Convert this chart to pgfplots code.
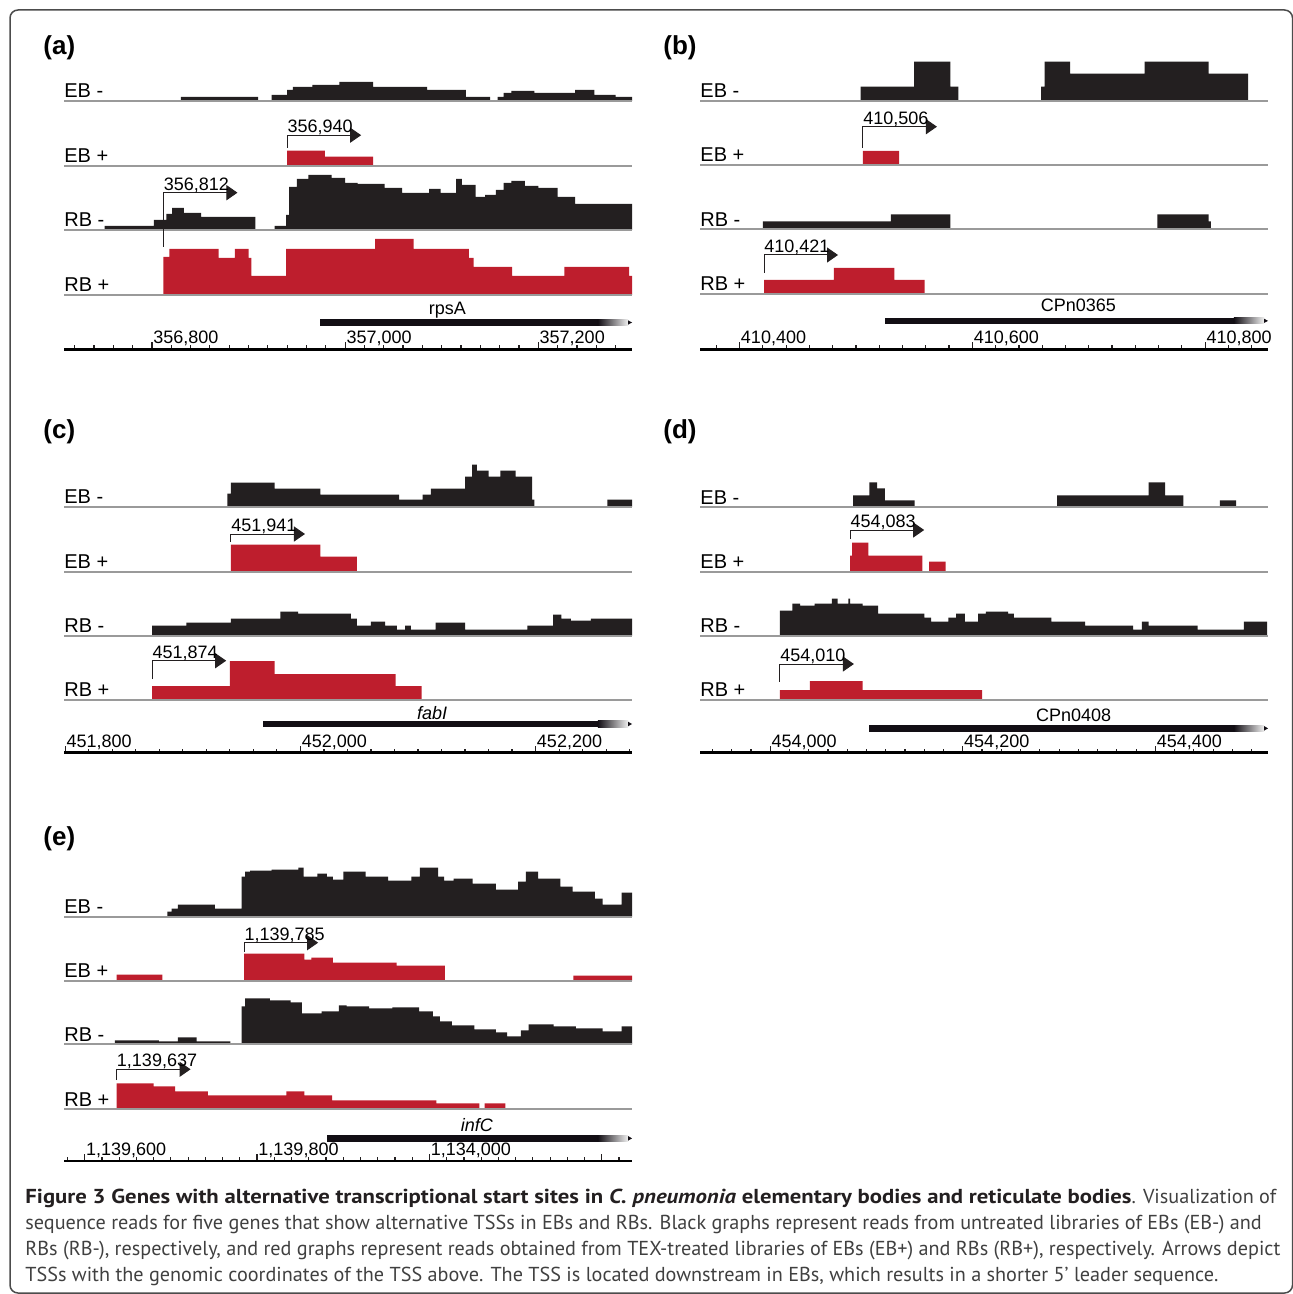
\documentclass[border=0pt]{standalone}
\usepackage{fontspec}
\setmainfont{Liberation Sans}
\newfontfamily\capfont{PT Sans}[BoldFeatures={FakeStretch=1.125}, BoldItalicFeatures={FakeStretch=1.125}]
\usepackage{pgfplots}
\pgfplotsset{compat=1.18}
\usetikzlibrary{arrows.meta}
\definecolor{tblack}{HTML}{231F20}
\definecolor{tred}{HTML}{BE1E2D}
\definecolor{bgray}{HTML}{9A9A9A}
\definecolor{genec}{HTML}{120E14}
\pgfplotsset{
  track/.style={scale only axis, width=284pt, height=30pt, ymin=0, ymax=60, hide axis, clip=false, anchor=south west},
  blk/.style={const plot, fill=tblack, draw=none},
  rd/.style={const plot, fill=tred, draw=none},
  ruler/.style={scale only axis, width=284pt, height=30pt, ymin=0, ymax=60,
    axis x line=bottom, axis y line=none, x axis line style={line width=1.3pt, -},
    tick align=inside, major tick length=3.5pt, minor tick length=2pt,
    every tick/.style={tblack, line width=0.6pt},
    xticklabel style={anchor=south west, inner sep=0.5pt, yshift=1pt, font=\fontsize{9}{10}\selectfont},
    clip=false, anchor=south west, scaled x ticks=false},
  pa/.style={xmin=356709, xmax=357297},
  pb/.style={xmin=410366, xmax=410854},
  pc/.style={xmin=451799, xmax=452282},
  pd/.style={xmin=453927, xmax=454517},
  pe/.style={xmin=1139576, xmax=1140235},
}
\tikzset{
  bline/.style={bgray, line width=0.9pt},
  lab/.style={anchor=base west, inner sep=0, yshift=1.6pt, font=\fontsize{10}{12}\selectfont},
  tssline/.style={tblack, line width=0.5pt, -{Triangle[length=5.5pt, width=7.5pt]}},
  tsslab/.style={anchor=base west, inner sep=0, yshift=1.3pt, font=\fontsize{9}{10}\selectfont},
  genelab/.style={anchor=base, inner sep=0, font=\fontsize{9}{10}\selectfont},
  ptitle/.style={anchor=base west, inner sep=0, font=\fontsize{13}{15}\selectfont\bfseries},
}
\newcommand\trk[1]{\draw[bline] (rel axis cs:0,0) -- (rel axis cs:1,0); \node[lab] at (rel axis cs:0,0) {#1};}
\newcommand\tss[4]{\draw[tssline] (axis cs:#1,#2) -- (axis cs:#1,#3) -- ([xshift=37pt]axis cs:#1,#3); \node[tsslab] at (axis cs:#1,#3) {#4};}
% start, end, ylo, yhi, ymid
\newcommand\genebar[5]{%
  \fill[genec] (axis cs:#1,#3) rectangle ([xshift=-17pt]axis cs:#2,#4);
  \shade[left color=genec, right color=black!6] ([xshift=-17.1pt]axis cs:#2,#3) rectangle ([xshift=-2pt]axis cs:#2,#4);
  \fill[genec] ([xshift=-2pt,yshift=0.5pt]axis cs:#2,#3) -- (axis cs:#2,#5) -- ([xshift=-2pt,yshift=-0.5pt]axis cs:#2,#4) -- cycle;}
\begin{document}
\begin{tikzpicture}
\begin{scope}[x=0.5pt,y=-0.5pt]
\useasboundingbox (0,0) rectangle (1293,1294);
\draw[black!70, line width=0.75pt, rounded corners=4pt] (10,1293) rectangle (1292.5,10);
\node[ptitle] at (43,55) {(a)};
\node[ptitle] at (663,55) {(b)};
\node[ptitle] at (43,438) {(c)};
\node[ptitle] at (663,438) {(d)};
\node[ptitle] at (43,845) {(e)};
\node[anchor=base west, inner sep=0] at (25,1203) {\parbox[t]{632pt}{\leavevmode\capfont\fontsize{10.1}{13.15}\selectfont
\hyphenpenalty=10000 \exhyphenpenalty=10000 \raggedright \parindent=0pt \color{black!75}%
{\bfseries\color{tblack}Figure 3 Genes with alternative transcriptional start sites in \textit{C. pneumonia} elementary bodies and reticulate bodies}. Visualization of\\
sequence reads for five genes that show alternative TSSs in EBs and RBs. Black graphs represent reads from untreated libraries of EBs (EB-) and\\
RBs (RB-), respectively, and red graphs represent reads obtained from TEX-treated libraries of EBs (EB+) and RBs (RB+), respectively. Arrows depict\\
TSSs with the genomic coordinates of the TSS above. The TSS is located downstream in EBs, which results in a shorter 5’ leader sequence.}};
\end{scope}

% ================= panel (a)
\begin{axis}[track, pa, at={(32pt,-50.5pt)}]
\addplot[blk] coordinates {(356830,4) (356910,0) (356924,6) (356940,11) (356946,14) (356966,16) (356994,19) (357029,14) (357085,11) (357125,4) (357150,0) (357158,4) (357164,8) (357172,10) (357196,8) (357238,11) (357258,6) (357280,4) (357297,4)} \closedcycle;
\trk{EB -}
\end{axis}
\begin{axis}[track, pa, at={(32pt,-82.85pt)}]
\addplot[rd] coordinates {(356940,15) (356979,9) (357029,9)} \closedcycle;
\trk{EB +}
\tss{356940}{18}{30.5}{356,940}
\end{axis}
\begin{axis}[track, pa, at={(32pt,-115pt)}]
\addplot[blk] coordinates {(356751,4) (356802,10) (356815,16) (356821,22) (356833,17) (356851,13) (356907,0) (356927,4) (356939,15) (356942,43) (356950,51) (356962,55) (356986,52) (357000,47) (357013,46) (357041,42) (357059,37) (357087,41) (357099,37) (357115,51) (357121,45) (357135,33) (357145,35) (357156,40) (357164,47) (357172,49) (357186,44) (357200,42) (357220,33) (357238,26) (357297,26)} \closedcycle;
\trk{RB -}
\end{axis}
\begin{axis}[track, pa, at={(32pt,-147.5pt)}]
\addplot[rd] coordinates {(356812,38) (356818,46) (356869,37) (356886,46) (356900,37) (356903,19) (356939,46) (357031,56) (357071,46) (357128,37) (357133,28) (357173,19) (357227,28) (357294,19) (357297,19)} \closedcycle;
\trk{RB +}
\tss{356812}{48}{102.3}{356,812}
\end{axis}
\begin{axis}[ruler, pa, at={(32pt,-174.65pt)},
  xtick={356800,357000,357200}, xticklabels={{356,800},{357,000},{357,200}},
  minor xtick={356720,356740,356760,356780,356820,356840,356860,356880,356900,356920,356940,356960,356980,357020,357040,357060,357080,357100,357120,357140,357160,357180,357220,357240,357260,357280}]
\genebar{356974}{357297}{23.6}{30}{26.8}
\node[genelab] at (axis cs:357106,34.3) {rpsA};
\end{axis}

% ================= panel (b)
\begin{axis}[track, pb, at={(350pt,-50.35pt)}]
\addplot[blk] coordinates {(410504,14) (410550,39) (410581,14) (410588,0) (410659,14) (410662,39) (410684,27) (410748,39) (410803,27) (410837,27)} \closedcycle;
\trk{EB -}
\end{axis}
\begin{axis}[track, pb, at={(350pt,-82.5pt)}]
\addplot[rd] coordinates {(410506,14) (410537,14)} \closedcycle;
\trk{EB +}
\tss{410506}{17}{38.3}{410,506}
\end{axis}
\begin{axis}[track, pb, at={(350pt,-114.65pt)}]
\addplot[blk] coordinates {(410420,8) (410530,15) (410581,0) (410759,15) (410803,8) (410805,8)} \closedcycle;
\trk{RB -}
\end{axis}
\begin{axis}[track, pb, at={(350pt,-147pt)}]
\addplot[rd] coordinates {(410421,14) (410481,26) (410533,14) (410559,14)} \closedcycle;
\trk{RB +}
\tss{410421}{21}{39}{410,421}
\end{axis}
\begin{axis}[ruler, pb, at={(350pt,-174.65pt)},
  xtick={410400,410600,410800}, xticklabels={{410,400},{410,600},{410,800}},
  minor xtick={410380,410420,410440,410460,410480,410500,410520,410540,410560,410580,410620,410640,410660,410680,410700,410720,410740,410760,410780,410820,410840}]
\genebar{410525}{410854}{25.3}{31.6}{28.45}
\node[genelab] at (axis cs:410691,37.6) {CPn0365};
\end{axis}

% ================= panel (c)
\begin{axis}[track, pc, at={(32pt,-253.35pt)}]
\addplot[blk] coordinates {(451938,13) (451941,24) (451978,18) (452017,12) (452084,7) (452104,12) (452111,18) (452140,30) (452146,42) (452150,36) (452160,30) (452170,36) (452183,30) (452197,7) (452199,0) (452261,7) (452282,7)} \closedcycle;
\trk{EB -}
\end{axis}
\begin{axis}[track, pc, at={(32pt,-285.85pt)}]
\addplot[rd] coordinates {(451941,27) (452017,15) (452048,15)} \closedcycle;
\trk{EB +}
\tss{451941}{29.7}{37.7}{451,941}
\end{axis}
\begin{axis}[track, pc, at={(32pt,-317.85pt)}]
\addplot[blk] coordinates {(451874,10) (451903,13) (451941,17) (451983,24) (451998,22) (452043,17) (452048,10) (452060,14) (452072,10) (452082,6) (452089,10) (452094,6) (452115,13) (452140,6) (452193,10) (452215,21) (452222,17) (452230,15) (452247,17) (452282,17)} \closedcycle;
\trk{RB -}
\end{axis}
\begin{axis}[track, pc, at={(32pt,-350pt)}]
\addplot[rd] coordinates {(451874,14) (451940,39) (451978,26) (452081,14) (452103,14)} \closedcycle;
\trk{RB +}
\tss{451874}{21}{39.3}{451,874}
\end{axis}
\begin{axis}[ruler, pc, at={(32pt,-376.35pt)},
  xtick={451800,452000,452200}, xticklabels={{451,800},{452,000},{452,200}},
  minor xtick={451820,451840,451860,451880,451900,451920,451940,451960,451980,452020,452040,452060,452080,452100,452120,452140,452160,452180,452220,452240,452260,452280}]
\genebar{451968}{452282}{25.4}{32}{28.7}
\node[genelab] at (axis cs:452112,33.4) {\itshape fabI};
\end{axis}

% ================= panel (d)
\begin{axis}[track, pd, at={(350pt,-253.65pt)}]
\addplot[blk] coordinates {(454086,12) (454103,25) (454111,19) (454119,7) (454150,0) (454298,12) (454393,25) (454410,12) (454429,0) (454467,7) (454484,7)} \closedcycle;
\trk{EB -}
\end{axis}
\begin{axis}[track, pd, at={(350pt,-285.85pt)}]
\addplot[rd] coordinates {(454083,16) (454085,29) (454102,16) (454158,0) (454165,10) (454182,10)} \closedcycle;
\trk{EB +}
\tss{454083}{32.7}{41.7}{454,083}
\end{axis}
\begin{axis}[track, pd, at={(350pt,-317.85pt)}]
\addplot[blk] coordinates {(454010,25) (454023,32) (454031,30) (454046,32) (454064,37) (454070,32) (454081,37) (454083,32) (454096,30) (454112,22) (454160,18) (454167,14) (454185,18) (454193,22) (454202,14) (454216,22) (454224,24) (454247,22) (454253,18) (454292,14) (454327,10) (454377,6) (454386,14) (454393,10) (454444,6) (454492,14) (454516,14)} \closedcycle;
\trk{RB -}
\end{axis}
\begin{axis}[track, pd, at={(350pt,-350pt)}]
\addplot[rd] coordinates {(454010,10) (454041,19) (454096,10) (454220,10)} \closedcycle;
\trk{RB +}
\tss{454010}{18.3}{36}{454,010}
\end{axis}
\begin{axis}[ruler, pd, at={(350pt,-376.35pt)},
  xtick={454000,454200,454400}, xticklabels={{454,000},{454,200},{454,400}},
  minor xtick={453940,453960,453980,454020,454040,454060,454080,454100,454120,454140,454160,454180,454220,454240,454260,454280,454300,454320,454340,454360,454380,454420,454440,454460,454480,454500}]
\genebar{454103}{454517}{21}{27.7}{24.35}
\node[genelab] at (axis cs:454315,31) {CPn0408};
\end{axis}

% ================= panel (e)
\begin{axis}[track, pe, at={(32pt,-458.35pt)}]
\addplot[blk] coordinates {(1139696,5) (1139701,8) (1139708,12) (1139751,8) (1139782,40) (1139786,45) (1139792,46) (1139817,47) (1139848,49) (1139854,40) (1139870,43) (1139881,40) (1139888,37) (1139900,45) (1139926,40) (1139952,36) (1139979,40) (1139989,49) (1140010,40) (1140017,36) (1140028,38) (1140050,33) (1140077,27) (1140103,35) (1140112,45) (1140126,38) (1140152,30) (1140166,25) (1140192,18) (1140201,12) (1140223,24) (1140235,24)} \closedcycle;
\trk{EB -}
\end{axis}
\begin{axis}[track, pe, at={(32pt,-490.35pt)}]
\addplot[rd] coordinates {(1139637,6) (1139690,0) (1139785,27) (1139855,21) (1139863,23) (1139888,18) (1139962,15) (1140018,0) (1140167,5) (1140235,5)} \closedcycle;
\trk{EB +}
\tss{1139785}{29}{38}{1,139,785}
\end{axis}
\begin{axis}[track, pe, at={(32pt,-522.15pt)}]
\addplot[blk] coordinates {(1139635,4) (1139686,3) (1139708,7) (1139730,3) (1139769,0) (1139782,38) (1139786,46) (1139815,44) (1139839,42) (1139852,31) (1139875,33) (1139895,39) (1139904,38) (1139930,36) (1139957,37) (1139988,33) (1140004,28) (1140012,23) (1140026,19) (1140052,15) (1140077,12) (1140090,8) (1140106,14) (1140115,20) (1140144,18) (1140170,16) (1140201,13) (1140223,18) (1140235,18)} \closedcycle;
\trk{RB -}
\end{axis}
\begin{axis}[track, pe, at={(32pt,-554.65pt)}]
\addplot[rd] coordinates {(1139637,26) (1139680,23) (1139705,18) (1139743,14) (1139834,18) (1139855,14) (1139887,9) (1140008,6) (1140058,0) (1140064,6) (1140088,6)} \closedcycle;
\trk{RB +}
\tss{1139637}{29.3}{40}{1,139,637}
\end{axis}
\begin{axis}[ruler, pe, at={(32pt,-580.5pt)},
  xtick={1139600,1139800,1140000,1140200}, xticklabels={{1,139,600},{1,139,800},{1,134,000},{}},
  minor xtick={1139580,1139620,1139640,1139660,1139680,1139700,1139720,1139740,1139760,1139780,1139820,1139840,1139860,1139880,1139900,1139920,1139940,1139960,1139980,1140020,1140040,1140060,1140080,1140100,1140120,1140140,1140160,1140180,1140220}]
\genebar{1139881}{1140235}{19.3}{26}{22.65}
\node[genelab] at (axis cs:1140055,29.3) {\itshape infC};
\end{axis}
\end{tikzpicture}
\end{document}
